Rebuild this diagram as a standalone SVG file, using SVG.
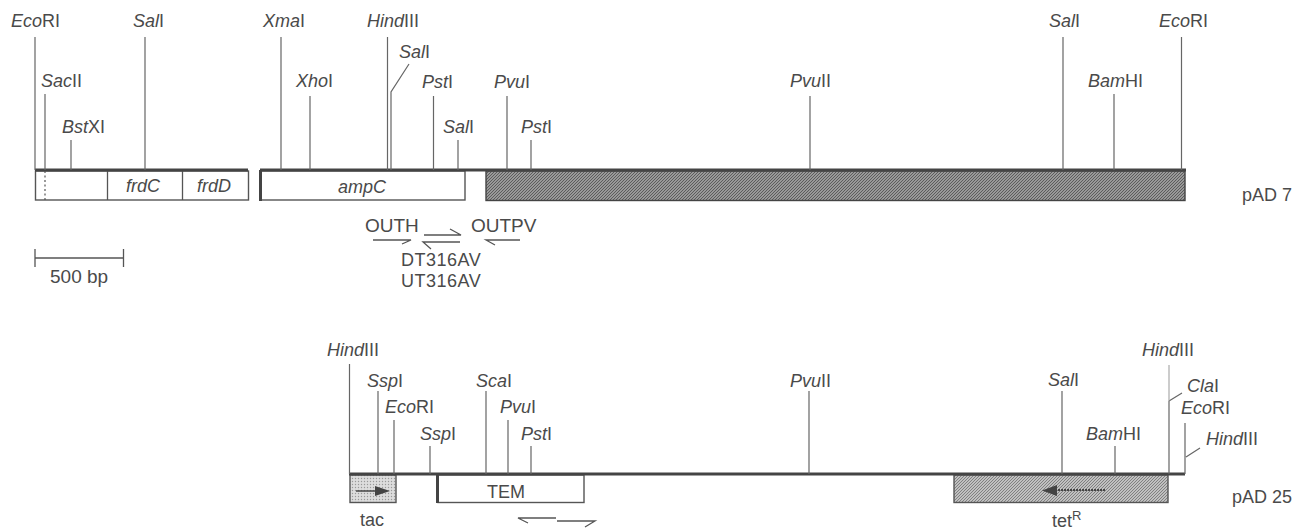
<svg xmlns="http://www.w3.org/2000/svg" width="1295" height="529" viewBox="0 0 1295 529">
<style>
text{font-family:"Liberation Sans",Arial,sans-serif;font-size:18px;fill:#4a4a4a}
.u{font-size:19px}
.w{letter-spacing:.5px}
.i{font-style:italic}
.s{stroke:#666;stroke-width:1.2;fill:none}
.k{stroke:#444;stroke-width:3;fill:none}
.b{stroke:#555;stroke-width:1.4;fill:#fff}
.a{stroke:#555;stroke-width:1.3;fill:none}
</style>
<defs>
<pattern id="h1" width="3" height="3" patternUnits="userSpaceOnUse"><rect width="3" height="3" fill="#999"/><path d="M0 3L3 0" stroke="#5c5c5c" stroke-width="1"/></pattern>
<pattern id="h2" width="3" height="3" patternUnits="userSpaceOnUse"><rect width="3" height="3" fill="#c0c0c0"/><path d="M0 3L3 0" stroke="#808080" stroke-width="1"/></pattern>
<pattern id="h3" width="3" height="3" patternUnits="userSpaceOnUse"><rect width="3" height="3" fill="#ddd"/><circle cx="1.500" cy="1.500" r=".7" fill="#999"/></pattern>
</defs>
<g id="pAD7">
<g id="frd-region"><rect class="b" x="35.500" y="171" width="213" height="29"/><path class="a" d="M107.500 171V200M182.500 171V200"/><text class="i" x="126" y="192">frdC</text><text class="i" x="197" y="192">frdD</text></g>
<g id="ampC"><rect class="b" x="260" y="171" width="205" height="29"/><path d="M260.500 170V201" stroke="#444" stroke-width="3"/><text class="i" x="338" y="193">ampC</text></g>
<rect id="hatched" x="486" y="171" width="699" height="29.500" fill="url(#h1)" stroke="#444" stroke-width="1.400"/>
<path class="k" d="M35 170H248M260 170H1186"/>
<text x="1242" y="201">pAD 7</text>
</g>
<g id="sites-top">
<text x="11" y="27"><tspan class="i">Eco</tspan>RI</text>
<text x="41" y="87"><tspan class="i">Sac</tspan>II</text>
<text x="62" y="133"><tspan class="i">Bst</tspan>XI</text>
<text x="133" y="27"><tspan class="i">Sal</tspan>I</text>
<text x="263" y="27"><tspan class="i">Xma</tspan>I</text>
<text x="296" y="87"><tspan class="i">Xho</tspan>I</text>
<text x="367" y="27"><tspan class="i">Hind</tspan>III</text>
<text x="399" y="58"><tspan class="i">Sal</tspan>I</text>
<text x="422" y="88"><tspan class="i">Pst</tspan>I</text>
<text x="494" y="88"><tspan class="i">Pvu</tspan>I</text>
<text x="443" y="133"><tspan class="i">Sal</tspan>I</text>
<text x="521" y="133"><tspan class="i">Pst</tspan>I</text>
<text x="790" y="87"><tspan class="i">Pvu</tspan>II</text>
<text x="1049" y="27"><tspan class="i">Sal</tspan>I</text>
<text x="1088" y="87"><tspan class="i">Bam</tspan>HI</text>
<text x="1159" y="27"><tspan class="i">Eco</tspan>RI</text>
</g>
<g id="scale"><path class="a" d="M35 258H123M35 249V267M123.500 249V267"/><text class="u" x="50" y="283">500 bp</text></g>
<g id="primers">
<text class="u" x="365" y="232">OUTH</text><text class="u" x="471" y="232">OUTPV</text>
<text class="w" x="401" y="266">DT316AV</text><text class="w" x="401" y="287">UT316AV</text>
<path class="a" d="M373 240H411L402 244M424 235H461L450 229M460 242H423L431 249M520 240H486L495 245"/>
</g>
<g id="pAD25">
<g id="tac"><rect x="350" y="475" width="46" height="27.500" fill="url(#h3)" stroke="#555" stroke-width="1.400"/><path d="M356 491H376" stroke="#444" stroke-width="1.500"/><path d="M375 486L390 491L375 496Z" fill="#444"/><text x="360" y="526">tac</text></g>
<g id="TEM"><rect class="b" x="438" y="475" width="146" height="27.500"/><path d="M437.500 474V503" stroke="#444" stroke-width="3"/><text x="487" y="498">TEM</text></g>
<g id="tetR"><rect x="954" y="475" width="214" height="27.500" fill="url(#h2)" stroke="#555" stroke-width="1.400"/><path d="M1055 490H1105" stroke="#444" stroke-width="1.800" stroke-dasharray="2 1"/><path d="M1057 485V496L1042 490.500Z" fill="#444"/><text x="1052" y="527">tet<tspan font-size="13" dy="-7">R</tspan></text></g>
<path class="k" d="M349 474H1185"/>
<path class="a" d="M528 523L518 518H556M557 521H595L585 527"/>
<text x="1232" y="503">pAD 25</text>
</g>
<g id="sites-bottom">
<text x="327" y="356"><tspan class="i">Hind</tspan>III</text>
<text x="367" y="387"><tspan class="i">Ssp</tspan>I</text>
<text x="385" y="413"><tspan class="i">Eco</tspan>RI</text>
<text x="420" y="440"><tspan class="i">Ssp</tspan>I</text>
<text x="476" y="387"><tspan class="i">Sca</tspan>I</text>
<text x="500" y="413"><tspan class="i">Pvu</tspan>I</text>
<text x="521" y="440"><tspan class="i">Pst</tspan>I</text>
<text x="790" y="387"><tspan class="i">Pvu</tspan>II</text>
<text x="1048" y="386"><tspan class="i">Sal</tspan>I</text>
<text x="1086" y="440"><tspan class="i">Bam</tspan>HI</text>
<text x="1142" y="356"><tspan class="i">Hind</tspan>III</text>
<text x="1187" y="392"><tspan class="i">Cla</tspan>I</text>
<text x="1181" y="414"><tspan class="i">Eco</tspan>RI</text>
<text x="1206" y="445"><tspan class="i">Hind</tspan>III</text>
</g>
<g id="connectors">
<path class="s" d="M35 37V170M45 94V170M71 140V170M145 37V170M281 37V170M310 96V170M387.500 37V170M391 170V92L409 64M433.500 96V170M458 140V170M507 96V170M531 140V170M810 96V170M1063 37V170M1114 94V170M1181.500 37V170"/>
<path d="M45 171V200" stroke="#555" stroke-width="1.200" stroke-dasharray="2 2.500" fill="none"/>
<path class="s" d="M349.500 364V474M378 391V474M394 420V474M430 446V474M486 391V474M508 420V474M531 446V474M809 391V474M1062 391V474M1115 446V474M1169 401V474M1185 423V474M1186 457L1200 448M1169 401L1182 393"/>
<path d="M1169 365V401" stroke="#999" stroke-width="1" fill="none"/>
</g>
</svg>
